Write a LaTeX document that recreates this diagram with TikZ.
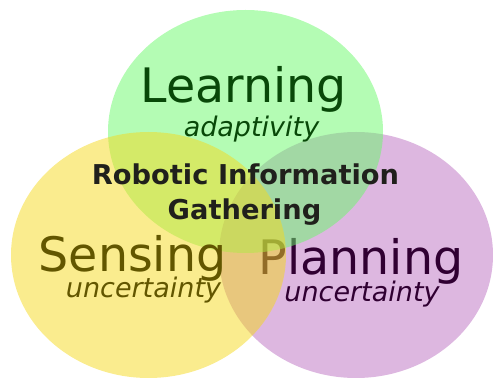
\documentclass[tikz,border=0pt]{standalone}
\usepackage{fontspec}
\setmainfont{DejaVu Sans}
\definecolor{cgreen}{RGB}{105,249,105}
\definecolor{cyellow}{RGB}{245,217,29}
\definecolor{cpurple}{RGB}{187,111,193}
\definecolor{tgreen}{RGB}{8,72,8}
\definecolor{tolive}{RGB}{98,86,0}
\definecolor{tpurple}{RGB}{48,0,50}
\definecolor{tdark}{RGB}{32,32,28}
\tikzset{
  blob/.style={fill opacity=0.5, draw=none},
  big/.style={anchor=base, inner sep=0pt, font=\fontsize{47.5}{50}\selectfont},
  sub/.style={anchor=base, inner sep=0pt, font=\fontsize{27}{29}\selectfont\itshape},
  core/.style={anchor=base, inner sep=0pt, font=\fontsize{27.3}{30}\selectfont\bfseries, text=tdark}
}
\begin{document}
\begin{tikzpicture}[x=1pt,y=-1pt]
\useasboundingbox (0,0) rectangle (493,379);
\fill[blob, cpurple] (356,255) ellipse [x radius=137, y radius=123];
\node[big, text=tpurple] (planning) at (361,275) {Planning};
\node[sub, text=tpurple] (planu) at (362,302) {uncertainty};
\fill[blob, cgreen] (245.5,131.5) ellipse [x radius=137.5, y radius=121.5];
\node[big, text=tgreen] (learning) at (244,103) {Learning};
\node[sub, text=tgreen] (adapt) at (251.5,137) {adaptivity};
\fill[blob, cyellow] (148.5,255) ellipse [x radius=137.5, y radius=123];
\node[big, text=tolive] (sensing) at (132.5,272) {Sensing};
\node[sub, text=tolive] (sensu) at (143.5,298) {uncertainty};
\node[core] (rig1) at (245.5,185) {Robotic Information};
\node[core] (rig2) at (244.5,220) {Gathering};
\end{tikzpicture}
\end{document}
